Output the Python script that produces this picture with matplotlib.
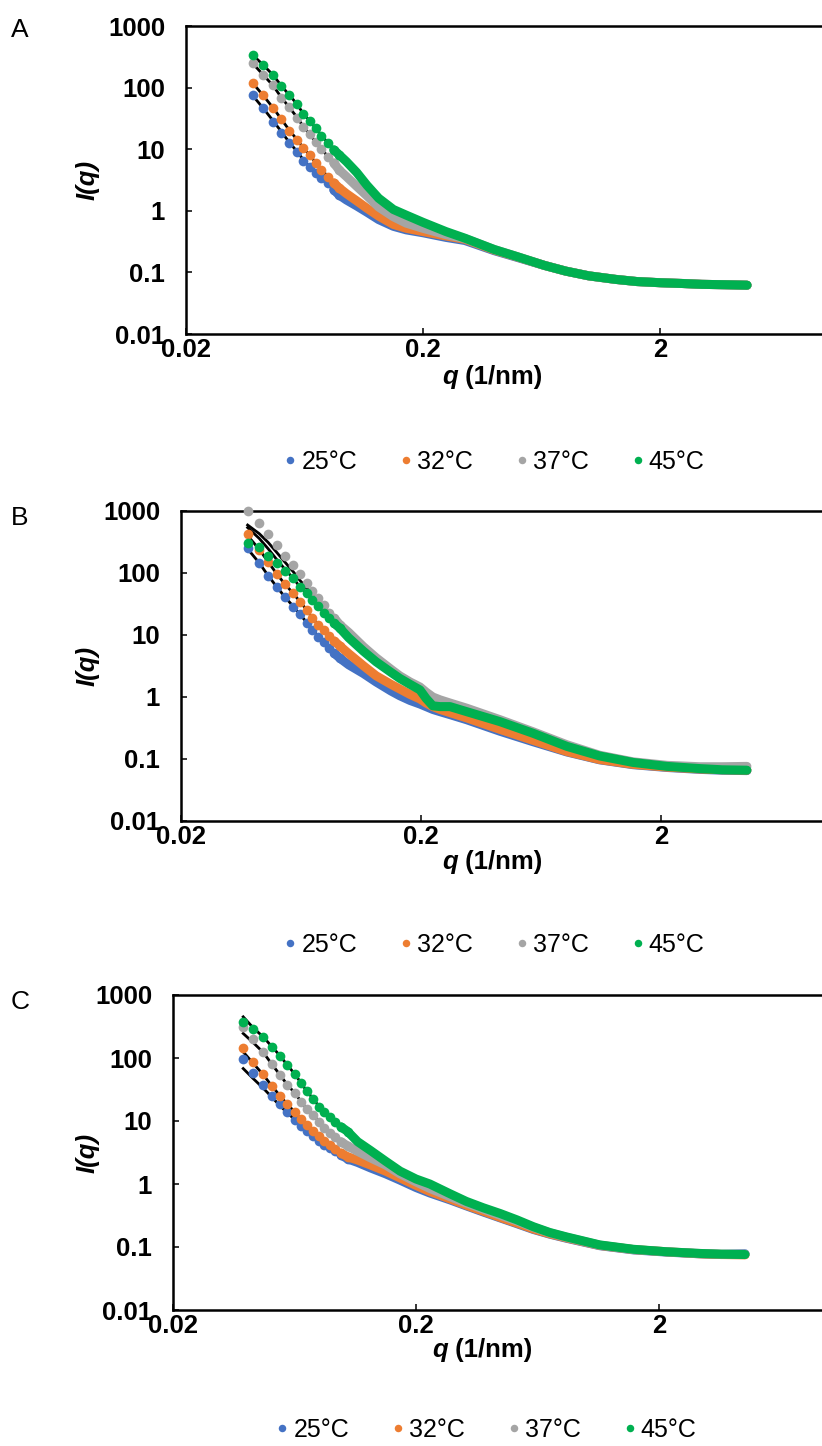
import matplotlib
matplotlib.use("Agg")
import matplotlib.pyplot as plt
from matplotlib.lines import Line2D

plt.rcParams['font.family'] = ['Liberation Sans', 'DejaVu Sans']

labels = ['25°C', '32°C', '37°C', '45°C']
colors = ['#4472C4', '#ED7D31', '#A5A5A5', '#00B050']

# ---- panel A ----
qA = [0.0385, 0.0424, 0.0466, 0.0504, 0.0545, 0.0588, 0.0624, 0.0664, 0.0705,
      0.0745, 0.0794, 0.0840, 0.0886]
A_25 = [76.2, 46.9, 27.8, 18.5, 12.7, 9.1, 6.5, 5.2, 4.15, 3.44, 2.85, 2.2, 1.8]
A_32 = [119, 76, 46.9, 31.1, 19.9, 14.2, 10.5, 8.1, 6.0, 4.64, 3.57, 2.85, 2.35]
A_37 = [251, 161, 110, 68, 48.6, 32.3, 23.1, 17.8, 13.2, 10.2, 7.5, 6.0, 4.6]
A_45 = [339, 233, 161, 106, 76, 54.5, 37.5, 28.8, 22.2, 16.5, 12.7, 9.8, 8.1]
fitA_25 = [72, 46, 29, 19.5, 13, 9.2, 6.8, 5.2, 4.1, 3.3, 2.7, 2.2, 1.85]
fitA_32 = [115, 74, 47, 31, 20.5, 14.3, 10.6, 8.0, 6.1, 4.7, 3.6, 2.9, 2.4]
fitA_37 = [240, 160, 108, 70, 48, 33, 23.5, 17.5, 13.2, 10.1, 7.6, 6.0, 4.7]
fitA_45 = [330, 232, 160, 108, 76, 54, 38, 29, 22, 16.8, 12.7, 10, 8.1]
qA_hi = [0.095, 0.105, 0.116, 0.13, 0.15, 0.17, 0.2, 0.25, 0.3, 0.4, 0.5, 0.65,
         0.8, 1.0, 1.3, 1.6, 2.0, 2.5, 3.0, 3.8, 4.66]
A_25_hi = [1.5, 1.2, 0.95, 0.72, 0.56, 0.49, 0.44, 0.37, 0.33, 0.225, 0.175, 0.13,
           0.105, 0.088, 0.077, 0.071, 0.068, 0.066, 0.064, 0.063, 0.062]
A_32_hi = [1.9, 1.45, 1.1, 0.82, 0.6, 0.52, 0.46, 0.39, 0.345, 0.23, 0.178, 0.13,
           0.105, 0.088, 0.077, 0.071, 0.068, 0.066, 0.064, 0.063, 0.062]
A_37_hi = [3.6, 2.5, 1.75, 1.15, 0.8, 0.63, 0.52, 0.41, 0.355, 0.235, 0.18, 0.13,
           0.105, 0.088, 0.077, 0.071, 0.068, 0.066, 0.064, 0.063, 0.062]
A_45_hi = [6.3, 4.2, 2.6, 1.6, 1.05, 0.85, 0.65, 0.46, 0.36, 0.235, 0.18, 0.13,
           0.105, 0.088, 0.077, 0.071, 0.068, 0.066, 0.064, 0.063, 0.062]

# ---- panel B ----
qB = [0.0379, 0.0424, 0.0462, 0.0501, 0.0542, 0.0587, 0.0626, 0.0668, 0.0705,
      0.0747, 0.0789, 0.083, 0.0871, 0.092]
B_25 = [250, 143, 89.5, 60, 40.5, 28.6, 21.8, 15.8, 12, 9.4, 7.8, 6.1, 5.07, 4.2]
B_32 = [421, 235, 152, 96, 65.6, 47, 34.5, 25.3, 18.6, 14.5, 12, 9.75, 8.0, 6.6]
B_37 = [1000, 647, 421, 283, 190, 135, 95, 70, 51, 39, 30.5, 22.9, 18.6, 14.5]
B_45 = [301, 259, 190, 143, 109, 82, 60, 47, 36.7, 29.7, 22.3, 19, 15.4, 12.8]
fitB_25 = [245, 145, 90, 60, 41, 29, 21.5, 16, 12.2, 9.5, 7.7, 6.2, 5.1, 4.2]
fitB_32 = [400, 240, 150, 97, 66, 47, 34.5, 25.5, 18.8, 14.6, 12, 9.8, 8.0, 6.6]
fitB_37 = [594, 430, 310, 215, 150, 105, 76, 57, 45, 35, 27.5, 21.5, 17.5, 13.8]
fitB_45 = [540, 360, 245, 165, 115, 82, 60, 47, 36.7, 29.5, 22.5, 18.8, 15.4, 12.6]
qB_hi = [0.1, 0.115, 0.13, 0.15, 0.163, 0.18, 0.198, 0.21, 0.224, 0.24, 0.264,
         0.31, 0.427, 0.586, 0.81, 1.11, 1.53, 2.12, 2.91, 3.6, 4.56]
B_25_hi = [3.3, 2.4, 1.75, 1.25, 1.05, 0.88, 0.77, 0.7, 0.63, 0.58, 0.52, 0.43,
           0.28, 0.19, 0.13, 0.097, 0.081, 0.073, 0.068, 0.066, 0.065]
B_32_hi = [5.0, 3.2, 2.2, 1.6, 1.35, 1.1, 0.93, 0.8, 0.7, 0.63, 0.56, 0.46,
           0.3, 0.2, 0.132, 0.098, 0.082, 0.074, 0.069, 0.067, 0.066]
B_37_hi = [11, 6.5, 4.3, 2.8, 2.2, 1.75, 1.45, 1.2, 1.0, 0.9, 0.8, 0.66,
           0.43, 0.275, 0.17, 0.115, 0.09, 0.079, 0.075, 0.075, 0.076]
B_45_hi = [9.0, 5.5, 3.7, 2.5, 2.0, 1.6, 1.3, 0.95, 0.72, 0.7, 0.7, 0.58,
           0.40, 0.26, 0.16, 0.112, 0.088, 0.076, 0.07, 0.067, 0.066]

# ---- panel C ----
qC = [0.0389, 0.0428, 0.0471, 0.0510, 0.0551, 0.0591, 0.0636, 0.0673, 0.0710,
      0.0756, 0.0798, 0.0839, 0.0885, 0.0928, 0.0982, 0.1047]
C_25 = [95.3, 57.2, 37.3, 25.2, 18.4, 14.1, 10.4, 8.43, 6.9, 5.7, 4.8, 4.2, 3.7, 3.3, 2.9, 2.5]
C_32 = [146, 85.4, 55, 36, 25.2, 18.4, 13.7, 10.6, 8.6, 7.0, 5.8, 4.9, 4.2, 3.6, 3.1, 2.7]
C_37 = [314, 198, 126, 79.4, 53.7, 37.3, 27.5, 20.3, 15.5, 12.4, 9.75, 7.83, 6.5, 5.5, 4.7, 4.0]
C_45 = [377, 289, 213, 151, 109, 77.4, 55, 39.6, 29.9, 22.1, 16.9, 14.1, 11.7, 9.75, 8.1, 6.8]
fitC_25 = [68, 47, 33, 24, 17.5, 13.5, 10.4, 8.4, 6.9, 5.7, 4.8, 4.2, 3.7, 3.3, 2.9, 2.5]
fitC_32 = [125, 82, 54, 36, 25.2, 18.4, 13.7, 10.6, 8.6, 7.0, 5.8, 4.9, 4.2, 3.6, 3.1, 2.7]
fitC_37 = [245, 175, 122, 80, 54, 37.5, 27.5, 20.3, 15.5, 12.4, 9.8, 7.9, 6.5, 5.5, 4.7, 4.0]
fitC_45 = [450, 300, 215, 152, 109, 77, 55, 40, 30, 22.3, 17, 14, 11.7, 9.8, 8.1, 6.8]
qC_hi = [0.115, 0.13, 0.15, 0.172, 0.2, 0.228, 0.276, 0.322, 0.378, 0.444, 0.52,
         0.608, 0.71, 0.83, 1.14, 1.57, 2.15, 2.94, 3.6, 4.52]
C_25_hi = [2.2, 1.8, 1.45, 1.15, 0.88, 0.72, 0.56, 0.45, 0.36, 0.29, 0.235,
           0.19, 0.16, 0.138, 0.105, 0.09, 0.083, 0.078, 0.076, 0.078]
C_32_hi = [2.4, 2.0, 1.6, 1.25, 0.95, 0.76, 0.58, 0.46, 0.37, 0.295, 0.24,
           0.193, 0.162, 0.14, 0.106, 0.091, 0.084, 0.078, 0.076, 0.075]
C_37_hi = [3.3, 2.6, 2.0, 1.45, 1.08, 0.85, 0.63, 0.5, 0.4, 0.32, 0.26,
           0.205, 0.168, 0.143, 0.107, 0.091, 0.084, 0.079, 0.077, 0.077]
C_45_hi = [4.7, 3.4, 2.3, 1.6, 1.2, 1.0, 0.7, 0.53, 0.42, 0.34, 0.27,
           0.21, 0.17, 0.145, 0.108, 0.092, 0.084, 0.079, 0.077, 0.076]

panels = [
    dict(tag='A', q=qA, data=[A_25, A_32, A_37, A_45],
         fits=[fitA_25, fitA_32, fitA_37, fitA_45],
         q_hi=qA_hi, data_hi=[A_25_hi, A_32_hi, A_37_hi, A_45_hi]),
    dict(tag='B', q=qB, data=[B_25, B_32, B_37, B_45],
         fits=[fitB_25, fitB_32, fitB_37, fitB_45],
         q_hi=qB_hi, data_hi=[B_25_hi, B_32_hi, B_37_hi, B_45_hi]),
    dict(tag='C', q=qC, data=[C_25, C_32, C_37, C_45],
         fits=[fitC_25, fitC_32, fitC_37, fitC_45],
         q_hi=qC_hi, data_hi=[C_25_hi, C_32_hi, C_37_hi, C_45_hi]),
]

W, H = 822, 1446
fig = plt.figure(figsize=(W / 100, H / 100), dpi=100)

# pixel layout of each plot: left spine, top, bottom, width of one decade
frames = [(186, 26, 334, 237), (181, 511, 821, 240), (173, 995, 1310, 243)]
xlab_y = [377, 862, 1350]
xlab_x = [442, 442, 432]
leg_y = [462, 945, 1430]
leg_x = [493, 493, 485]
tag_y = [30, 518, 1002]

MS = 7.0

for p, (left, top, bottom, dec), xly, xlx, lgy, lgx, ty in zip(
        panels, frames, xlab_y, xlab_x, leg_y, leg_x, tag_y):
    # the x axis runs to 20, past the right edge of the figure
    ax = fig.add_axes([left / W, 1 - bottom / H, 3 * dec / W, (bottom - top) / H])
    ax.set_xscale('log')
    ax.set_yscale('log')
    ax.set_xlim(0.02, 20)
    ax.set_ylim(0.01, 1000)

    q = p['q']
    for k, (col, vals, fit, hi) in enumerate(zip(colors, p['data'], p['fits'], p['data_hi'])):
        ax.plot(q, fit, color='black', lw=2.0, zorder=2)
        ax.plot(q[-2:] + p['q_hi'], vals[-2:] + hi, color=col, lw=6.5,
                solid_capstyle='round', solid_joinstyle='round', zorder=3 + k)
        ax.plot(q, vals, 'o', ms=MS, color=col, mec='none', zorder=3 + k, clip_on=False)

    ax.set_xticks([0.02, 0.2, 2, 20])
    ax.set_xticklabels(['0.02', '0.2', '2', ''])
    ax.set_yticks([0.01, 0.1, 1, 10, 100, 1000])
    ax.set_yticklabels(['0.01', '0.1', '1', '10', '100', '1000'])
    ax.minorticks_off()
    ax.tick_params(axis='both', direction='in', length=4.5, width=1.1,
                   labelsize=18.5)
    ax.tick_params(axis='y', pad=15)
    ax.tick_params(axis='x', pad=3)
    for lab in ax.get_xticklabels() + ax.get_yticklabels():
        lab.set_fontweight('bold')
    for side in ['left', 'bottom', 'top']:
        ax.spines[side].set_linewidth(1.8)
    ax.spines['right'].set_visible(False)

    # axis titles
    fig.text(88 / W, 1 - (top + bottom) / 2 / H, 'I(q)', rotation=90,
             fontsize=18.5, fontweight='bold', fontstyle='italic',
             ha='center', va='center')
    t = fig.text(xlx / W, 1 - xly / H, 'q', fontsize=18.5, fontweight='bold',
                 fontstyle='italic', ha='left', va='center')
    ax.annotate(' (1/nm)', xy=(1, 0.5), xycoords=t, fontsize=18.5,
                fontweight='bold', ha='left', va='center')

    fig.text(20 / W, 1 - ty / H, p['tag'], fontsize=19, ha='center', va='center')

    handles = [Line2D([], [], ls='none', marker='o', ms=5.4, color=c, mec='none')
               for c in colors]
    fig.legend(handles, labels, loc='center', bbox_to_anchor=(lgx / W, 1 - lgy / H),
               ncol=4, frameon=False, fontsize=18, handletextpad=0.1,
               columnspacing=1.6, handlelength=0.7)

fig.savefig('out.png', dpi=100)
